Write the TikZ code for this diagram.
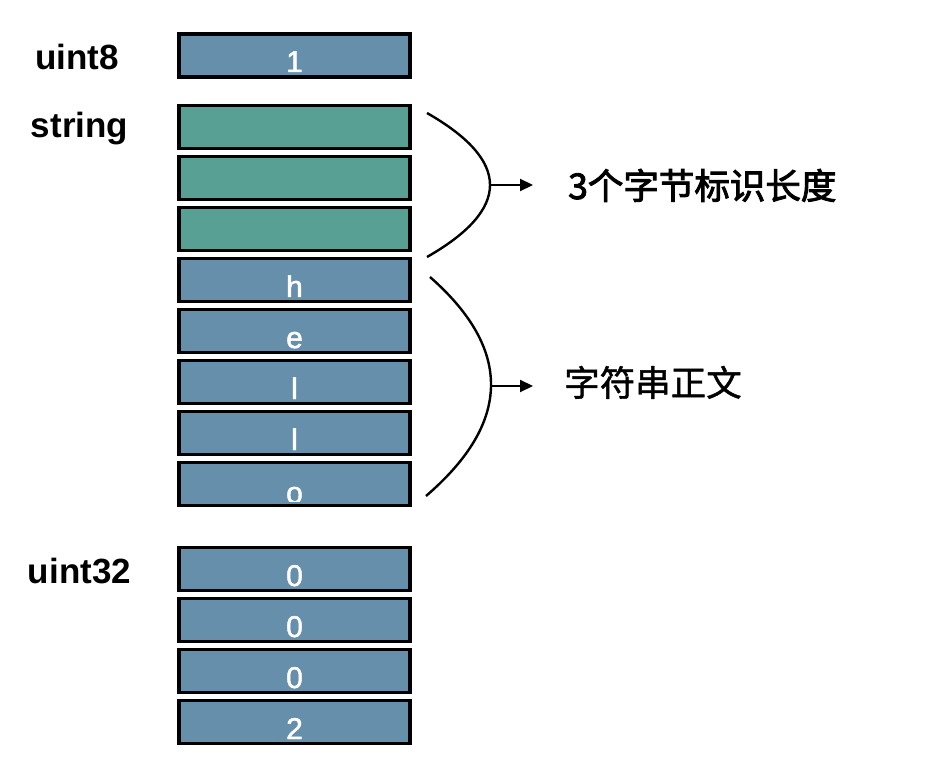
\documentclass[tikz,border=0pt]{standalone}
\usepackage{fontspec}
\setmainfont{Liberation Sans}
\newfontfamily\cellfont{Liberation Sans}[FakeBold=1.6]
\newfontfamily\cjkheavy{Noto Sans CJK SC}[FakeBold=2.6]
\newfontfamily\cjkmid{Noto Sans CJK SC}[FakeBold=1.2]
\usetikzlibrary{arrows.meta}
\definecolor{boxblue}{RGB}{102,143,172}
\definecolor{boxgreen}{RGB}{88,160,147}
\tikzset{
  cell/.style={draw=black, line width=3.8pt, minimum width=231pt, minimum height=43pt, inner sep=0pt},
  bluecell/.style={cell, fill=boxblue},
  greencell/.style={cell, fill=boxgreen},
  celltext/.style={anchor=base, inner sep=0pt, text=white, font=\cellfont\fontsize{30pt}{36pt}\selectfont},
  typelabel/.style={anchor=base, inner sep=0pt, font=\fontsize{35pt}{42pt}\selectfont\bfseries},
  notelabel/.style={anchor=base west, inner sep=0pt},
  brace/.style={line width=2.4pt},
  pointer/.style={line width=2.2pt, -{Triangle[length=13pt,width=12pt]}}
}
\begin{document}
\begin{tikzpicture}[x=1pt,y=-1pt]
\useasboundingbox (0,0) rectangle (932,778);
% labels
\node[typelabel] (luint8) at (77,70) {uint8};
\node[typelabel] (lstring) at (79.5,138) {string};
\node[typelabel] (luint32) at (79.5,583) {uint32};
% uint8
\node[bluecell] (b1) at (294.5,55.5) {};
\node[celltext] (t1) at (294.5,72) {1};
% string length bytes
\node[greencell] (g1) at (294.5,127) {};
\node[greencell] (g2) at (294.5,178) {};
\node[greencell] (g3) at (294.5,229) {};
% string body
\node[bluecell] (sh) at (294.5,280) {};
\node[bluecell] (se) at (294.5,331) {};
\node[bluecell] (sl1) at (294.5,382) {};
\node[bluecell] (sl2) at (294.5,433) {};
\node[bluecell] (so) at (294.5,484) {};
\node[celltext] (th) at (294.5,297) {h};
\node[celltext] (te) at (294.5,348) {e};
\node[celltext] (tl1) at (294.5,399) {l};
\node[celltext] (tl2) at (294.5,450) {l};
\begin{scope}
\clip (180,462) rectangle (410,501);
\node[celltext] (to) at (294.5,503) {o};
\end{scope}
% uint32
\node[bluecell] (u1) at (294.5,569) {};
\node[bluecell] (u2) at (294.5,620) {};
\node[bluecell] (u3) at (294.5,671) {};
\node[bluecell] (u4) at (294.5,722) {};
\node[celltext] (tu1) at (294.5,586) {0};
\node[celltext] (tu2) at (294.5,637) {0};
\node[celltext] (tu3) at (294.5,688) {0};
\node[celltext] (tu4) at (294.5,739) {2};
% braces
\coordinate (c1s) at (427,113);
\coordinate (c1e) at (427,257);
\coordinate (c1m) at (490,185);
\coordinate (c1a) at (533,185);
\coordinate (c2s) at (430,277);
\coordinate (c2e) at (426,496);
\coordinate (c2m) at (491,386);
\coordinate (c2a) at (533,386);
\draw[brace] (c1s) .. controls (511,161) and (511,209) .. (c1e);
\draw[brace] (c2s) .. controls (512.7,349.7) and (511.3,422.7) .. (c2e);
\draw[pointer] (c1m) -- (c1a);
\draw[pointer] (c2m) -- (c2a);
% notes
\node[notelabel, font=\cjkheavy\fontsize{35.5pt}{42pt}\selectfont] (n1) at (568,199) {3个字节标识长度};
\node[notelabel, font=\cjkmid\fontsize{35.5pt}{42pt}\selectfont] (n2) at (564,396) {字符串正文};
\end{tikzpicture}
\end{document}
